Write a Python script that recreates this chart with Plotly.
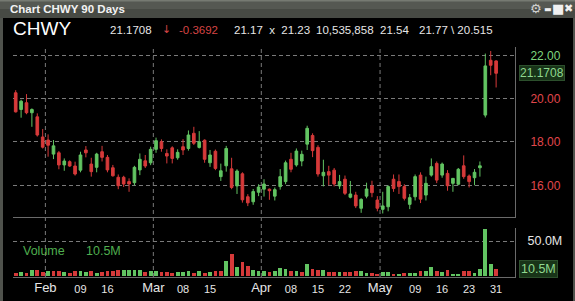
import plotly.graph_objects as go
import pandas as pd

# ---------------- data ----------------
TICKER = "CHWY"
HOLIDAYS = ["2024-02-19", "2024-03-29", "2024-05-27"]
dates = [d for d in pd.bdate_range("2024-01-24", "2024-05-31") if d.strftime("%Y-%m-%d") not in HOLIDAYS]

OPEN = [20.27, 19.50, 19.81, 19.35, 19.16, 18.23, 18.09, 17.44, 17.50, 16.94,
        17.09, 16.89, 16.70, 17.63, 16.98, 16.83, 17.55, 17.29, 16.81, 16.37,
        16.37, 16.17, 16.12, 16.71, 17.13, 17.04, 17.66, 18.01, 17.47, 17.73,
        17.27, 17.78, 17.70, 18.40, 17.75, 18.08, 17.04, 17.57, 16.40, 16.90,
        16.76, 15.97, 16.53, 15.47, 15.24, 15.68, 15.82, 15.82, 15.50, 15.94,
        16.17, 17.20, 16.94, 17.12, 17.90, 18.30, 17.75, 16.44, 16.63, 16.70,
        15.97, 16.28, 15.45, 15.55, 14.94, 15.50, 15.97, 15.32, 14.89, 15.01,
        16.28, 16.17, 15.94, 15.12, 15.47, 16.47, 15.55, 16.47, 17.01, 16.47,
        16.55, 16.09, 16.05, 16.90, 16.43, 16.35, 16.81, 19.24, 21.77, 21.74]
HIGH = [20.39, 19.95, 20.21, 19.55, 19.32, 18.60, 18.35, 18.09, 17.58, 17.24,
        17.15, 17.09, 17.55, 17.81, 17.27, 17.50, 17.82, 17.40, 16.94, 16.50,
        16.44, 16.32, 16.90, 17.47, 17.40, 17.78, 18.20, 18.12, 17.66, 17.80,
        17.66, 18.13, 18.53, 18.70, 18.50, 18.12, 17.63, 17.65, 17.00, 17.82,
        17.27, 16.74, 16.60, 15.59, 15.83, 16.05, 16.28, 15.85, 15.90, 16.75,
        17.14, 17.50, 17.70, 17.60, 18.75, 18.40, 17.85, 17.18, 16.90, 16.80,
        16.48, 16.45, 16.20, 15.70, 15.40, 16.12, 16.21, 15.50, 15.70, 16.00,
        16.50, 16.50, 16.05, 15.60, 16.50, 16.60, 16.40, 17.24, 17.10, 17.05,
        16.70, 16.32, 16.80, 17.38, 16.50, 16.75, 17.10, 22.08, 22.20, 21.77]
LOW = [19.36, 19.12, 19.28, 18.70, 18.25, 17.70, 17.32, 17.21, 16.74, 16.67,
       16.85, 16.45, 16.60, 17.29, 16.40, 16.60, 17.10, 16.60, 16.40, 15.82,
       15.92, 15.70, 16.00, 16.47, 16.80, 16.93, 17.50, 17.55, 17.01, 17.01,
       17.18, 17.40, 17.60, 17.86, 17.70, 17.04, 16.85, 16.70, 16.20, 16.63,
       15.82, 15.60, 15.20, 15.04, 15.10, 15.50, 15.48, 15.33, 15.30, 15.80,
       16.05, 16.60, 16.86, 16.88, 17.63, 17.30, 16.40, 15.95, 16.00, 15.95,
       15.83, 15.55, 15.40, 14.95, 14.73, 15.40, 15.45, 14.80, 14.70, 14.80,
       15.70, 15.60, 15.30, 14.90, 15.30, 15.18, 15.30, 16.40, 16.10, 16.35,
       15.75, 15.70, 16.00, 16.30, 15.90, 16.00, 16.40, 19.13, 21.08, 20.515]
CLOSE = [19.39, 19.88, 19.35, 19.50, 18.32, 17.76, 17.85, 17.82, 16.94, 17.12,
         16.89, 16.52, 17.40, 17.50, 16.63, 17.44, 17.29, 16.71, 16.44, 15.98,
         16.06, 16.06, 16.83, 17.20, 16.89, 17.66, 18.06, 17.70, 17.35, 17.24,
         17.52, 17.63, 18.32, 17.94, 18.01, 17.20, 17.40, 16.78, 16.67, 17.70,
         15.90, 16.66, 15.33, 15.19, 15.71, 15.92, 16.06, 15.75, 15.80, 16.40,
         17.04, 16.74, 17.58, 17.43, 18.63, 17.60, 16.52, 16.60, 16.47, 16.06,
         16.17, 15.63, 15.60, 15.05, 15.35, 15.83, 15.66, 14.94, 15.05, 15.94,
         15.85, 15.94, 15.40, 15.43, 16.40, 15.36, 16.09, 16.86, 16.24, 16.98,
         15.98, 16.32, 16.74, 16.40, 16.17, 16.60, 16.90, 21.51, 21.54, 21.1708]
VOLUME_M = [4.7, 6.1, 4.2, 8.4, 9.3, 6.1, 8.0, 7.0, 7.0, 6.0,
            4.7, 7.0, 8.0, 6.0, 7.0, 4.7, 5.6, 8.0, 8.0, 9.3,
            9.5, 9.0, 9.0, 8.5, 5.5, 8.0, 7.0, 6.0, 5.5, 4.5,
            6.0, 6.0, 7.0, 5.0, 7.0, 5.0, 6.5, 7.0, 8.0, 21.0,
            32.0, 12.6, 19.6, 14.0, 9.3, 8.0, 8.0, 6.0, 7.0, 11.7,
            10.5, 7.0, 8.0, 6.5, 18.0, 10.0, 8.5, 8.5, 6.0, 5.5,
            5.5, 5.5, 6.5, 7.0, 7.0, 4.8, 4.8, 3.8, 5.5, 5.5,
            3.8, 2.8, 5.2, 5.2, 5.2, 7.0, 7.0, 13.0, 7.0, 6.0,
            8.5, 3.8, 3.8, 7.0, 7.0, 5.2, 10.0, 66.5, 17.0, 10.5]

PRICE_TICKS = [16, 18, 20, 22]
VOLUME_TICKS = [50]
DAY_TICK_DATES = ["2024-02-09", "2024-02-16", "2024-03-08", "2024-03-15",
                  "2024-04-08", "2024-04-15", "2024-04-22",
                  "2024-05-09", "2024-05-16", "2024-05-23", "2024-05-31"]
MONTH_LABELS = ["Feb", "Mar", "Apr", "May"]

HEADER = {"last": "21.1708", "change": "-0.3692", "bidask": "21.17  x  21.23",
          "volume": "10,535,858", "open": "21.54", "hilo": "21.77 \\ 20.515"}
LAST_VOLUME_LABEL = "10.5M"

# ---------------- styling ----------------
W, H = 575, 301
PL, PR = 13, 515
GREEN = "#62c462"
RED = "#d63a3a"
GRID = "#7a7a7a"
AXLINE = "#6a6a6a"
FONT = "Liberation Sans, Arial, sans-serif"


def px_x(px):
    return (px - PL) / (PR - PL)


def px_y(py):
    return 1 - py / H


idx = list(range(len(dates)))
date_str = [d.strftime("%Y-%m-%d") for d in dates]
vol_colors = [GREEN if (i == 0 and CLOSE[0] >= OPEN[0]) or (i > 0 and CLOSE[i] >= CLOSE[i - 1]) else RED
              for i in idx]

# month boundaries
month_pos = []
for i in idx[1:]:
    if dates[i].month != dates[i - 1].month:
        month_pos.append(i - 0.5)
day_pos = [date_str.index(d) for d in DAY_TICK_DATES]
day_text = [d[-2:] for d in DAY_TICK_DATES]

fig = go.Figure()
fig.add_trace(go.Candlestick(
    x=idx, open=OPEN, high=HIGH, low=LOW, close=CLOSE,
    increasing=dict(line=dict(color=GREEN, width=1), fillcolor=GREEN),
    decreasing=dict(line=dict(color=RED, width=1), fillcolor=RED),
    whiskerwidth=0, xaxis="x", yaxis="y", showlegend=False, hoverinfo="skip"))
fig.add_trace(go.Bar(
    x=idx, y=VOLUME_M, marker=dict(color=vol_colors, line=dict(width=0)),
    width=0.7, xaxis="x2", yaxis="y2", showlegend=False, hoverinfo="skip"))
# invisible trace to activate month-label axis
fig.add_trace(go.Scatter(x=[idx[0]], y=[0], xaxis="x3", yaxis="y2", mode="markers",
                         marker=dict(opacity=0), showlegend=False, hoverinfo="skip"))

XR = [-0.5, 92.5]
price_lo = 16 - (216.7 - 185.3) / 21.667
price_hi = 22 + (55.3 - 47) / 21.667

price_ticktext = []
for v in PRICE_TICKS:
    col = "#7fd67f" if v > CLOSE[-1] else "#e0474c"
    price_ticktext.append(f'<span style="color:{col}">{v:.2f}</span>')

fig.update_layout(
    width=W, height=H,
    margin=dict(l=PL, r=W - PR, t=0, b=0, autoexpand=False),
    paper_bgcolor="black", plot_bgcolor="rgba(0,0,0,0)",
    font=dict(family=FONT, color="#e6e6e6"),
    bargap=0,
    xaxis=dict(domain=[0, 1], range=XR, anchor="y", showticklabels=False, showgrid=False,
               zeroline=False, showline=True, linecolor=AXLINE, linewidth=1,
               rangeslider=dict(visible=False), fixedrange=True),
    yaxis=dict(domain=[px_y(216.7), px_y(47)], range=[price_lo, price_hi], side="right",
               tickvals=PRICE_TICKS, ticktext=price_ticktext, showgrid=True, gridcolor=GRID,
               griddash="4px,3px", gridwidth=1, zeroline=False, showline=True,
               linecolor=AXLINE, linewidth=1, ticks="", ticklabelstandoff=12,
               tickfont=dict(size=12, family=FONT)),
    xaxis2=dict(domain=[0, 1], range=XR, anchor="y2", tickvals=day_pos, ticktext=day_text,
                tickfont=dict(size=11, color="#e6e6e6", family=FONT), showgrid=False,
                zeroline=False, showline=True, linecolor=AXLINE, linewidth=1, ticks="",
                ticklabelstandoff=2),
    xaxis3=dict(range=XR, overlaying="x2", anchor="y2", side="bottom", tickvals=month_pos,
                ticktext=MONTH_LABELS, tickfont=dict(size=13, color="#e6e6e6", family=FONT),
                showgrid=False, zeroline=False, showline=False, ticks="", ticklabelstandoff=1),
    yaxis2=dict(domain=[px_y(276.7), px_y(228.3)], range=[0, 67.8], side="right",
                tickvals=VOLUME_TICKS, ticktext=[f"{v:.1f}M" for v in VOLUME_TICKS],
                showgrid=True, gridcolor=GRID, griddash="4px,3px", zeroline=False,
                showline=True, linecolor=AXLINE, linewidth=1, ticks="", ticklabelstandoff=9,
                tickfont=dict(size=12.5, color="#e6e6e6", family=FONT)),
)

shapes = []
for m in month_pos:
    shapes.append(dict(type="line", xref="x", yref="paper", x0=m, x1=m,
                       y0=px_y(277), y1=px_y(47), layer="below",
                       line=dict(color=GRID, width=1, dash="4px,3px")))
# title bar (two-tone gradient) and window borders
shapes.append(dict(type="rect", xref="paper", yref="paper", x0=px_x(0), x1=px_x(W),
                   y0=px_y(18), y1=px_y(0), fillcolor="#474a44", line=dict(width=0), layer="above"))
shapes.append(dict(type="rect", xref="paper", yref="paper", x0=px_x(0), x1=px_x(W),
                   y0=px_y(9), y1=px_y(0), fillcolor="#555852", line=dict(width=0), layer="above"))
shapes.append(dict(type="rect", xref="paper", yref="paper", x0=px_x(0), x1=px_x(W),
                   y0=px_y(1.5), y1=px_y(0), fillcolor="#767a72", line=dict(width=0), layer="above"))
shapes.append(dict(type="rect", xref="paper", yref="paper", x0=px_x(0), x1=px_x(3),
                   y0=px_y(H), y1=px_y(18), fillcolor="#4f524c", line=dict(width=0), layer="above"))
shapes.append(dict(type="rect", xref="paper", yref="paper", x0=px_x(W - 2), x1=px_x(W),
                   y0=px_y(H), y1=px_y(18), fillcolor="#4f524c", line=dict(width=0), layer="above"))
fig.update_layout(shapes=shapes)

ann = []


def text(px, py, s, size=11, color="#e6e6e6", anchor="left", **kw):
    ann.append(dict(xref="paper", yref="paper", x=px_x(px), y=px_y(py), text=s,
                    showarrow=False, xanchor=anchor, yanchor="middle",
                    font=dict(size=size, color=color, family=kw.pop("family", FONT)), **kw))


text(8, 8.5, f"<b>Chart {TICKER} 90 Days</b>", size=11.5, color="#f2f2f2")
text(536, 8.5, "⚙", size=13, color="#d0d0d0", anchor="center", family="DejaVu Sans")
text(548, 10, "▬", size=8, color="#f0f0f0", anchor="center", family="DejaVu Sans")
text(558, 8.5, "■", size=13, color="#f0f0f0", anchor="center", family="DejaVu Sans")
text(568, 8.5, "✖", size=11, color="#f0f0f0", anchor="center", family="DejaVu Sans")

text(11, 29, TICKER, size=19, color="#ffffff")
text(108, 30, HEADER["last"], size=11.5)
text(166, 30, "↓", size=11, color="#d64545", anchor="center", family="DejaVu Sans")
text(177, 30, HEADER["change"], size=11.5, color="#d64545")
text(232, 30, HEADER["bidask"], size=11.5)
text(314, 30, HEADER["volume"], size=11.5)
text(378, 30, HEADER["open"], size=11.5)
text(417, 30, HEADER["hilo"], size=11.5)

text(21, 251, "Volume", size=12.5, color="#4fae4f")
text(84, 251, LAST_VOLUME_LABEL, size=12.5, color="#4fae4f")

# last price box
ann.append(dict(xref="paper", yref="y", x=1, y=CLOSE[-1], xshift=4, text=HEADER["last"],
                showarrow=False, xanchor="left", yanchor="middle",
                font=dict(size=12, color="#8fd88f", family=FONT), bgcolor="#183418",
                bordercolor="#2c4f2c", borderwidth=1, borderpad=0))
# last volume box
ann.append(dict(xref="paper", yref="y2", x=1, y=VOLUME_M[-1], xshift=4, text=LAST_VOLUME_LABEL,
                showarrow=False, xanchor="left", yanchor="middle",
                font=dict(size=12.5, color="#8fd88f", family=FONT), bgcolor="#183418",
                bordercolor="#2c4f2c", borderwidth=1, borderpad=1))
fig.update_layout(annotations=ann)

fig.write_html("out.html")
